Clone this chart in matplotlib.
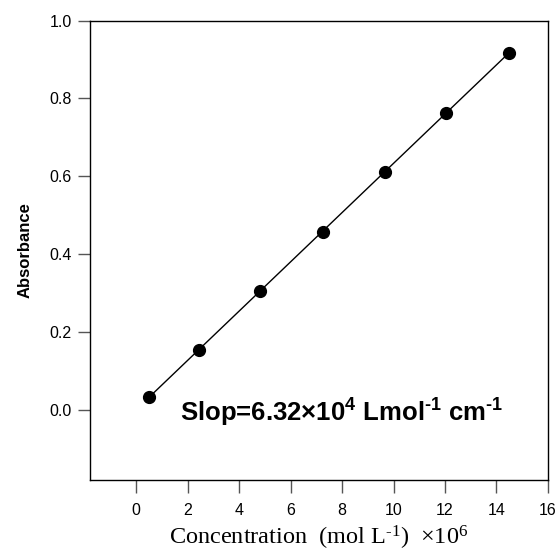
import numpy as np
import matplotlib
matplotlib.use("Agg")
import matplotlib.pyplot as plt

plt.rcParams['font.family'] = ['Liberation Sans', 'DejaVu Sans']
plt.rcParams['mathtext.default'] = 'regular'

# Data
concentration = [0.50, 2.43, 4.83, 7.24, 9.65, 12.05, 14.47]
absorbance = [0.033, 0.154, 0.306, 0.456, 0.610, 0.763, 0.918]
x_ticks = [0, 2, 4, 6, 8, 10, 12, 14, 16]
y_ticks = [0.0, 0.2, 0.4, 0.6, 0.8, 1.0]

fig = plt.figure(figsize=(5.58, 5.59), dpi=100)
ax = fig.add_axes([0.161, 0.142, 0.821, 0.821])

x = np.array(concentration)
y = np.array(absorbance)
m, b = np.polyfit(x, y, 1)
xf = np.array([x.min(), x.max()])
ax.plot(xf, m * xf + b, color='black', lw=1.0, zorder=2)
ax.plot(x, y, 'o', color='black', markersize=8.5, zorder=3)

ax.set_xlim(-1.8, 16)
ax.set_ylim(-0.18, 1.0)
ax.set_xticks(x_ticks)
ax.set_yticks(y_ticks)
ax.set_yticklabels([f"{v:.1f}" for v in y_ticks])
ax.tick_params(direction='out', length=9, width=1, labelsize=11.5, pad=4,
               color='#555555')
ax.tick_params(axis='x', pad=8)
for s in ax.spines.values():
    s.set_linewidth(1.0)
    s.set_color('black')

ax.set_ylabel('Absorbance', fontsize=12, fontweight='bold', labelpad=12)
ax.set_xlabel('Concentration  (mol L$^{\u20101}$)  \u00d710$^{6}$',
              family=['Liberation Serif', 'DejaVu Serif'], fontsize=17.5, labelpad=4)

ax.text(0.197, 0.145, 'Slop=6.32\u00d710$^{4}$ Lmol$^{\u20101}$ cm$^{\u20101}$',
        transform=ax.transAxes, fontsize=18.5, fontweight='bold',
        ha='left', va='center')

fig.savefig('out.png', dpi=100)
